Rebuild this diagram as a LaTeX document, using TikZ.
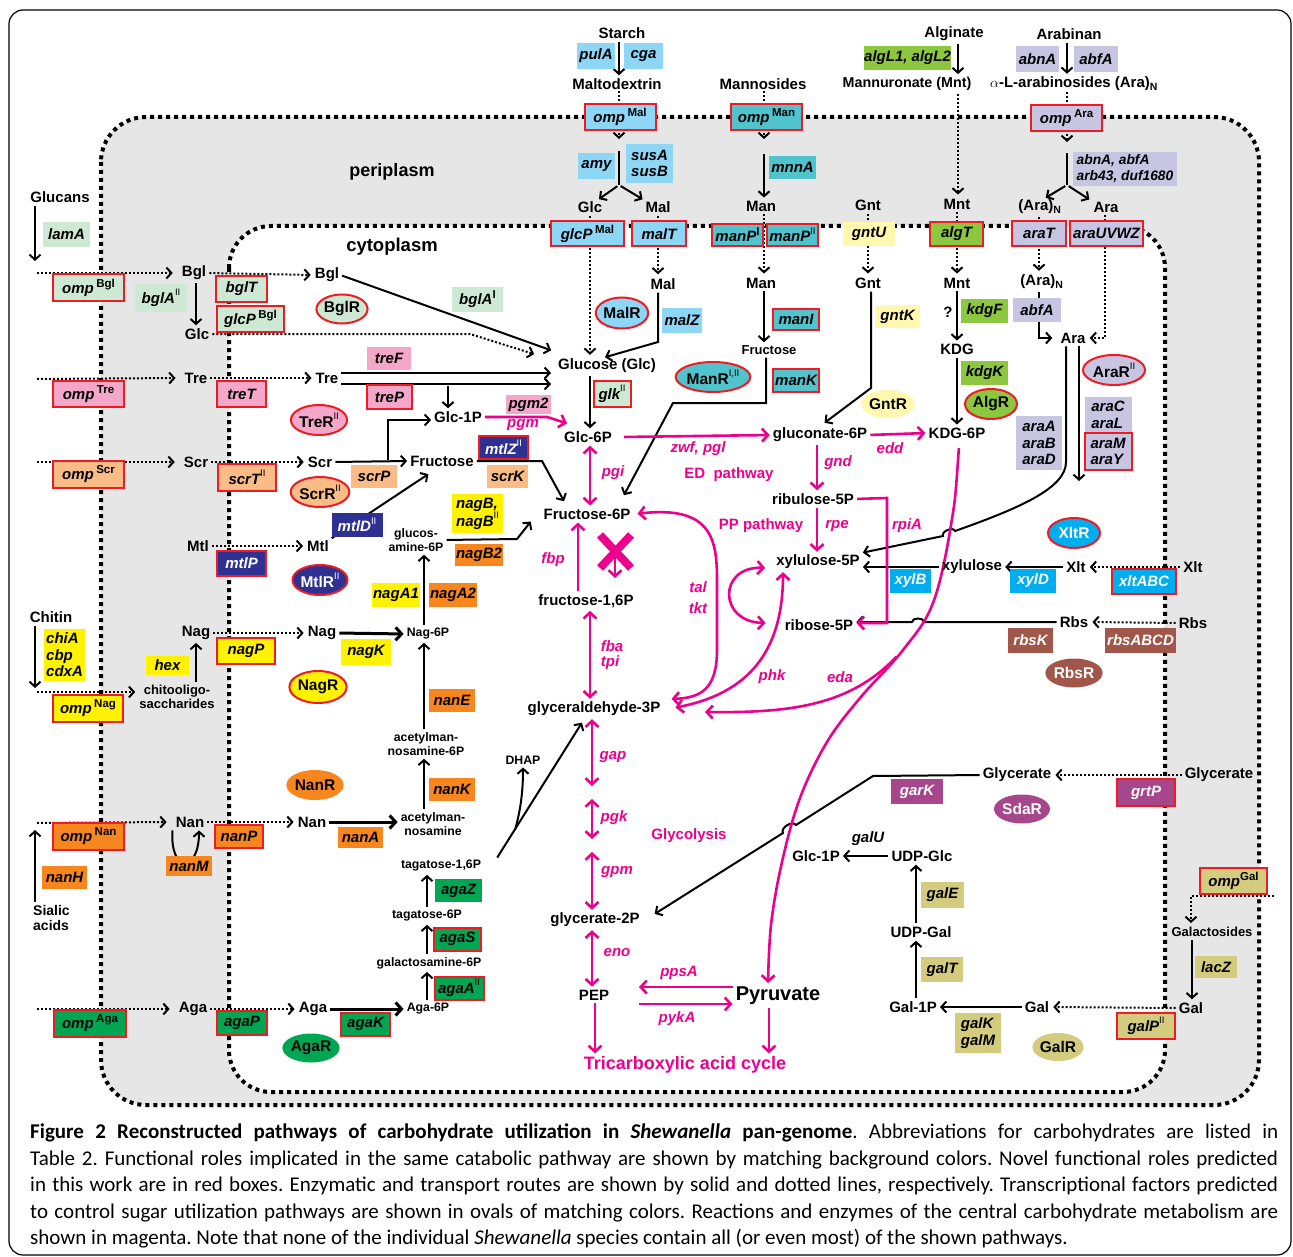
\documentclass[tikz,border=0pt]{standalone}
\usepackage{fontspec}
\setmainfont{Liberation Sans}
\newfontfamily\capfont{Carlito}
\usetikzlibrary{arrows.meta,shapes.geometric,calc}
\pgfdeclarelayer{membl}
\pgfdeclarelayer{lines}
\pgfsetlayers{membl,lines,main}
\definecolor{cBgl}{HTML}{CDE8D3}
\definecolor{cTre}{HTML}{F4A7C9}
\definecolor{cScr}{HTML}{F9BC86}
\definecolor{cMtl}{HTML}{2E3192}
\definecolor{cNag}{HTML}{FFF200}
\definecolor{cNan}{HTML}{F7861F}
\definecolor{cAga}{HTML}{00A651}
\definecolor{cMal}{HTML}{8DD6F6}
\definecolor{cMan}{HTML}{50C3CC}
\definecolor{cGnt}{HTML}{FFF8AE}
\definecolor{cAlg}{HTML}{8DC63F}
\definecolor{cAra}{HTML}{C8C5E2}
\definecolor{cXlt}{HTML}{00AEEF}
\definecolor{cRbs}{HTML}{A0574A}
\definecolor{cGly}{HTML}{A6478B}
\definecolor{cGal}{HTML}{D3CB7D}
\definecolor{mag}{HTML}{EC008C}
\definecolor{nred}{HTML}{ED1C24}
\definecolor{memgray}{HTML}{E6E6E6}
\newcommand\mfont{\fontsize{15}{17}\selectfont\bfseries}
\newcommand\smfont{\fontsize{12.3}{14}\selectfont\bfseries}
\newcommand\genefont{\fontsize{15}{16.5}\selectfont\bfseries\itshape}
\newcommand\regfont{\fontsize{15.5}{17}\selectfont\bfseries}
\newcommand\sps[1]{\raisebox{0.4em}{\fontsize{11.5}{11.5}\selectfont\upshape #1}}
\newcommand\spii{\raisebox{0.5em}{\fontsize{9.5}{9.5}\selectfont\upshape\mdseries II}}
\newcommand\gb[7][]{\node[gene,fill=#6,minimum width=#4pt,minimum height=#5pt,#1] (#2) at (#3) {#7};}
\newcommand\rg[7][]{\node[reg,fill=#6,minimum width=#4pt,minimum height=#5pt,#1] (#2) at (#3) {#7};}
\begin{document}
\begin{tikzpicture}[x=1pt,y=-1pt,
  gene/.style={rectangle,inner sep=0pt,font=\genefont,align=left},
  nov/.style={draw=nred,line width=2pt},
  wt/.style={text=white},
  reg/.style={ellipse,inner sep=0pt,font=\regfont},
  regnov/.style={draw=nred,line width=2pt},
  met/.style={inner sep=1pt,font=\mfont},
  sm/.style={inner sep=1pt,font=\smfont,align=center},
  ml/.style={inner sep=1pt,text=mag,font=\genefont},
  mt/.style={inner sep=1pt,text=mag,font=\mfont},
  ar/.style={line width=2pt,shorten <=2pt,shorten >=2pt,-{Straight Barb[length=5pt,width=11pt]}},
  arth/.style={line width=3pt,shorten <=2pt,shorten >=2pt,-{Straight Barb[length=6pt,width=13pt]}},
  ln/.style={line width=2pt},
  tp/.style={line width=2pt,dash pattern=on 2pt off 2pt,shorten <=2pt,shorten >=3pt,-{Straight Barb[length=5pt,width=11pt]}},
  tpl/.style={line width=2pt,dash pattern=on 2pt off 2pt},
  mg/.style={draw=mag,line width=2.6pt,shorten <=2pt,shorten >=2pt,-{Straight Barb[length=6pt,width=13pt]}},
  mgd/.style={draw=mag,line width=2.6pt,shorten <=2pt,shorten >=2pt,{Straight Barb[length=6pt,width=13pt]}-{Straight Barb[length=6pt,width=13pt]}},
  mgl/.style={draw=mag,line width=2.6pt},
  mline/.style={line width=4pt,dash pattern=on 4pt off 4pt},
  capl/.style={anchor=west,inner sep=0pt,font=\capfont\fontsize{21}{24}\selectfont\frenchspacing},
]
\useasboundingbox (0,0) rectangle (1293,1257);
\begin{pgfonlayer}{membl}
\fill[memgray,rounded corners=45pt] (101,117) rectangle (1259,1105);
\fill[white,rounded corners=42pt] (229,226) rectangle (1165,1092);
\draw[mline,rounded corners=45pt] (101,117) rectangle (1259,1105);
\draw[mline,rounded corners=42pt] (229,226) rectangle (1165,1092);
\end{pgfonlayer}
\draw[line width=1.2pt,rounded corners=14pt] (9,10) rectangle (1291,1255);

\node[met,font=\fontsize{18}{20}\selectfont\bfseries] (peri) at (392,172) {periplasm};
\node[met,font=\fontsize{18.5}{20}\selectfont\bfseries] (cyto) at (392,247) {cytoplasm};

% ---------- Mal
\node[met] (starch) at (622,33) {Starch};
\gb{pulA}{596,56}{38}{26}{cMal}{pulA}
\gb{cga}{643.5,56}{39}{26}{cMal}{cga}
\node[met] (maltod) at (617,84) {Maltodextrin};
\gb[nov]{ompMal}{620,117}{71}{26}{cMal}{omp\,\sps{Mal}}
\gb{amy}{596.5,166}{37}{26}{cMal}{amy}
\gb{susAB}{649.5,163.5}{47}{39}{cMal}{susA\\susB}
\node[met] (pGlc) at (590,207) {Glc};
\node[met] (pMal) at (658,207) {Mal};
\gb[nov]{glcPMal}{587.5,234}{73}{25}{cMal}{glcP\,\sps{Mal}}
\gb[nov]{malT}{659,234}{54}{25}{cMal}{malT}
\node[met] (cMal) at (663,284) {Mal};
\rg[regnov]{MalR}{622,313}{52}{31}{cMal}{MalR}
\gb{malZ}{682,320.5}{40}{25}{cMal}{malZ}
\node[met] (glucose) at (607,366) {Glucose (Glc)};
\gb[nov]{glk}{612,394}{37}{26}{cBgl}{glk\spii}
\node[met] (glc6p) at (588,437) {Glc-6P};

% ---------- Man
\node[met] (mannos) at (763,84) {Mannosides};
\gb[nov]{ompMan}{766.5,117}{71}{26}{cMan}{omp\,\sps{Man}}
\gb{mnnA}{792.5,167.5}{47}{23}{cMan}{mnnA}
\node[met] (pMan) at (761,206) {Man};
\gb[nov]{manPI}{737.5,235}{51}{22}{cMan}{manP\sps{I}}
\gb[nov]{manPII}{792.5,235}{51}{22}{cMan}{manP\spii}
\node[met] (cMan) at (761,283) {Man};
\gb[nov]{manI}{796,319.5}{46}{21}{cMan}{manI}
\node[sm,font=\fontsize{13}{15}\selectfont\bfseries] (fruM) at (769,350) {Fructose};
\gb[nov]{manK}{796,380.5}{46}{23}{cMan}{manK}
\rg[regnov]{ManR}{713,377}{70}{30}{cMan}{ManR\raisebox{0.5em}{\fontsize{9.5}{9.5}\selectfont\mdseries I,II}}

% ---------- Gnt
\node[met] (pGnt) at (868,205) {Gnt};
\gb{gntU}{869,234}{52}{24}{cGnt}{gntU}
\node[met] (cGnt) at (868,283) {Gnt};
\gb{gntK}{897.5,316.5}{45}{23}{cGnt}{gntK}
\rg{GntR}{888,404}{51}{28}{cGnt}{GntR}
\node[met] (gluc6p) at (820,435) {gluconate-6P};

% ---------- Alg
\node[met] (algin) at (954,34) {Alginate};
\gb{algL}{907.5,58}{87}{24}{cAlg}{algL1, algL2}
\node[met,font=\fontsize{14.3}{16}\selectfont\bfseries] (mntT) at (907,84) {Mannuronate (Mnt)};
\node[met] (pMnt) at (957,204) {Mnt};
\gb[nov]{algT}{956.5,234}{53}{24}{cAlg}{algT}
\node[met] (cMnt) at (957,283) {Mnt};
\node[met] (qm) at (948,312) {?};
\gb{kdgF}{984.5,311}{47}{24}{cAlg}{kdgF}
\node[met] (KDG) at (957,349) {KDG};
\gb{kdgK}{984.5,373}{47}{24}{cAlg}{kdgK}
\rg[regnov]{AlgR}{991,404}{52}{30}{cAlg}{AlgR}
\node[met] (kdg6p) at (957,433) {KDG-6P};

% ---------- Ara
\node[met] (arabinan) at (1069,34) {Arabinan};
\gb{abnA}{1037.5,59}{43}{26}{cAra}{abnA}
\gb{abfA}{1096,59}{44}{26}{cAra}{abfA}
\node[met] (aranT) at (1074,84) {$\alpha$-L-arabinosides (Ara)\textsubscript{N}};
\gb[nov]{ompAra}{1066.5,118}{71}{26}{cAra}{omp\,\sps{Ara}}
\gb[font=\fontsize{13.8}{16}\selectfont\bfseries\itshape]{abn2}{1125,169}{104}{34}{cAra}{abnA, abfA\\arb43, duf1680}
\node[met] (pAraN) at (1040,207) {(Ara)\textsubscript{N}};
\node[met] (pAra) at (1106,207) {Ara};
\gb[nov]{araT}{1039,233.5}{54}{25}{cAra}{araT}
\gb[nov]{araUVWZ}{1106.5,233.5}{73}{25}{cAra}{araUVWZ}
\node[met] (cAraN) at (1042,282) {(Ara)\textsubscript{N}};
\gb{abfAc}{1037,310}{48}{24}{cAra}{abfA}
\node[met] (cAra) at (1073,338) {Ara};
\rg[regnov]{AraR}{1114,370}{62}{30}{cAra}{AraR\spii}
\gb{araCL}{1108,415}{47}{36}{cAra}{araC\\araL}
\gb[nov]{araMY}{1108,451.5}{47}{37}{cAra}{araM\\araY}
\gb{araABD}{1039,443}{46}{54}{cAra}{araA\\araB\\araD}

% ---------- Xlt / Rbs
\rg[regnov,wt]{XltR}{1074,533}{52}{30}{cXlt}{XltR}
\node[met] (xltO) at (1193,567) {Xlt};
\node[met] (xlt) at (1076,567) {Xlt};
\gb[nov,wt]{xltABC}{1144,581.5}{64}{25}{cXlt}{xltABC}
\gb[wt]{xylD}{1033,581}{46}{24}{cXlt}{xylD}
\node[met] (xylulose) at (972,567) {xylulose};
\gb[wt]{xylB}{910.5,581}{41}{24}{cXlt}{xylB}
\node[met] (xylu5p) at (818,562) {xylulose-5P};
\node[met] (rbsO) at (1193,623) {Rbs};
\node[met] (rbs) at (1074,622) {Rbs};
\gb[wt]{rbsABCD}{1140.5,640.5}{71}{25}{cRbs}{rbsABCD}
\gb[wt]{rbsK}{1030.5,640.5}{45}{25}{cRbs}{rbsK}
\rg[wt]{RbsR}{1074,673}{51}{29}{cRbs}{RbsR}
\node[met] (rib5p) at (819,625) {ribose-5P};

% ---------- Glycerate
\node[met] (glyO) at (1219,775) {Glycerate};
\node[met] (gly) at (1017,775) {Glycerate};
\gb[nov,wt]{grtP}{1146,792.5}{58}{27}{cGly}{grtP}
\gb[wt]{garK}{917,791.5}{52}{25}{cGly}{garK}
\rg[wt]{SdaR}{1022,809}{46}{29}{cGly}{SdaR}

% ---------- Gal
\node[met] (glc1pB) at (816,856) {Glc-1P};
\node[inner sep=1pt,font=\genefont] (galU) at (868,839) {galU};
\node[met] (udpglc) at (922,856) {UDP-Glc};
\gb{galE}{942.5,895}{43}{26}{cGal}{galE}
\node[met] (udpgal) at (921,932) {UDP-Gal};
\gb{galT}{942,969.5}{42}{25}{cGal}{galT}
\node[met] (gal1p) at (913,1007) {Gal-1P};
\gb{galKM}{978,1033}{46}{40}{cGal}{galK\\galM}
\node[met] (galc) at (1037,1007) {Gal};
\gb[nov]{galP}{1146,1026}{58}{26}{cGal}{galP\spii}
\rg{GalR}{1058,1047}{51}{28}{cGal}{GalR}
\node[met] (galp) at (1191,1008) {Gal};
\gb{lacZ}{1216,967}{42}{22}{cGal}{lacZ}
\node[inner sep=1pt,font=\fontsize{13}{15}\selectfont\bfseries] (galact) at (1212,932) {Galactosides};
\gb[nov]{ompGal}{1233.5,880.5}{67}{26}{cGal}{omp\sps{Gal}}

% ---------- central
\node[met] (f6p) at (587,514) {Fructose-6P};
\node[met] (f16p) at (586,601) {fructose-1,6P};
\node[met] (g3p) at (594,709) {glyceraldehyde-3P};
\node[met] (ribu5p) at (813,499) {ribulose-5P};
\node[met] (g2p) at (595,920) {glycerate-2P};
\node[met] (pep) at (594,995) {PEP};
\node[met,font=\fontsize{20}{22}\selectfont\bfseries] (pyr) at (778,996) {Pyruvate};
\node[mt,font=\fontsize{18}{20}\selectfont\bfseries] (tca) at (685,1065) {Tricarboxylic acid cycle};
\node[ml] (pgi) at (613,473) {pgi};
\node[ml] (zwf) at (698,449) {zwf, pgl};
\node[mt] (EDp) at (729,475) {ED\ \ pathway};
\node[ml] (edd) at (890,448) {edd};
\node[ml] (gnd) at (838,463) {gnd};
\node[mt] (PPp) at (761,526) {PP pathway};
\node[ml] (rpe) at (837,526) {rpe};
\node[ml] (rpiA) at (907,526) {rpiA};
\node[ml] (fbp) at (553,560) {fbp};
\node[ml] (tal) at (698,587) {tal};
\node[ml] (tkt) at (698,608) {tkt};
\node[ml] (fba) at (612,646) {fba};
\node[ml] (tpi) at (610,663) {tpi};
\node[ml] (phk) at (772,677) {phk};
\node[ml] (eda) at (840,677) {eda};
\node[ml] (pgm) at (523,425) {pgm};
\node[ml] (gap) at (613,757) {gap};
\node[ml] (pgk) at (614,818) {pgk};
\node[ml] (gpm) at (617,872) {gpm};
\node[mt] (glycol) at (689,836) {Glycolysis};
\node[ml] (eno) at (617,953) {eno};
\node[ml] (ppsA) at (679,973) {ppsA};
\node[ml] (pykA) at (677,1019) {pykA};

% ---------- Bgl / Tre / Scr / Mtl
\node[met] (glucans) at (60,197) {Glucans};
\gb{lamA}{66.5,234.5}{47}{25}{cBgl}{lamA}
\node[met] (bglp) at (194,273) {Bgl};
\gb[nov]{ompBgl}{88.5,287.5}{71}{27}{cBgl}{omp\,\sps{Bgl}}
\gb{bglA2}{161,298}{52}{28}{cBgl}{bglA\spii}
\node[met] (glcp) at (197,334) {Glc};
\node[met] (bglc) at (327,275) {Bgl};
\gb[nov]{bglT}{241.5,289}{51}{26}{cBgl}{bglT}
\gb[nov]{glcPBgl}{250.5,319}{67}{26}{cBgl}{glcP\,\sps{Bgl}}
\rg[regnov]{BglR}{342,309}{46}{29}{cBgl}{BglR}
\gb{bglA1}{477.5,299.5}{51}{25}{cBgl}{bglA\sps{I}}
\node[met] (trep) at (196,378) {Tre};
\gb[nov]{ompTre}{88.5,394}{71}{26}{cTre}{omp\,\sps{Tre}}
\gb[nov]{treT}{241.5,394}{49}{26}{cTre}{treT}
\node[met] (trec) at (327,378) {Tre};
\gb{treF}{389,358.5}{44}{23}{cTre}{treF}
\gb[nov]{treP}{389.5,397}{45}{24}{cTre}{treP}
\rg[regnov]{TreR}{319,420}{51}{30}{cTre}{TreR\spii}
\node[met] (glc1p) at (458,417) {Glc-1P};
\gb{pgm2}{528.5,404.5}{45}{19}{cTre}{pgm2}
\node[met] (scrp) at (196,462) {Scr};
\gb[nov]{ompScr}{88.5,474.5}{71}{27}{cScr}{omp\,\sps{Scr}}
\gb[nov]{scrT}{247,477.5}{58}{27}{cScr}{scrT\spii}
\node[met] (scrc) at (320,462) {Scr};
\gb{scrP}{374,476}{46}{23}{cScr}{scrP}
\rg[regnov]{ScrR}{320,492}{55}{30}{cScr}{ScrR\spii}
\node[met] (fruL) at (442,461) {Fructose};
\gb[nov,wt]{mtlZ}{503.5,447.5}{49}{23}{cMtl}{mtlZ\spii}
\gb{scrK}{507.5,476}{41}{23}{cScr}{scrK}
\node[met] (mtlp) at (198,546) {Mtl};
\gb[nov,wt]{mtlP}{241.5,563.5}{49}{25}{cMtl}{mtlP}
\node[met] (mtlc) at (318,546) {Mtl};
\gb[wt]{mtlD}{357,525}{51}{24}{cMtl}{mtlD\spii}
\rg[regnov,wt]{MtlR}{320,580}{55}{30}{cMtl}{MtlR\spii}
\node[sm] (glcn6p) at (416,540) {glucos-\\amine-6P};
\gb{nagB}{477.5,513.5}{51}{39}{cNag}{nagB,\\nagB\spii}
\gb{nagB2}{479,555}{48}{22}{cNan}{nagB2}
\gb{nagA1}{396,595}{48}{24}{cNag}{nagA1}
\gb{nagA2}{453,595}{48}{24}{cNan}{nagA2}

% ---------- Nag / Nan / Aga
\node[met] (chitin) at (51,617) {Chitin};
\gb{chiA}{64.5,655}{41}{52}{cNag}{chiA\\cbp\\cdxA}
\gb{hex}{167.5,665.5}{43}{19}{cNag}{hex}
\gb[nov]{ompNag}{88,708.5}{70}{27}{cNag}{omp\,\sps{Nag}}
\node[sm,font=\fontsize{13}{14.5}\selectfont\bfseries] (chito) at (177,697) {chitooligo-\\saccharides};
\node[met] (nagp) at (196,633) {Nag};
\gb[nov]{nagP}{246,651}{58}{26}{cNag}{nagP}
\node[met] (nagc) at (322,633) {Nag};
\rg[regnov]{NagR}{318,687}{52}{32}{cNag}{NagR}
\gb{nagK}{366,652}{50}{26}{cNag}{nagK}
\node[sm] (nag6p) at (428,634) {Nag-6P};
\gb{nanE}{452,700.5}{46}{23}{cNan}{nanE}
\node[sm] (acman6p) at (426,744) {acetylman-\\nosamine-6P};
\node[inner sep=1pt,align=left,font=\fontsize{14}{15.5}\selectfont\bfseries,anchor=west] (sialic) at (32,918) {Sialic\\acids};
\gb{nanH}{64.5,877}{45}{23}{cNan}{nanH}
\node[met] (nanp) at (190,822) {Nan};
\gb[nov]{ompNan}{88.5,836.5}{71}{27}{cNan}{omp\,\sps{Nan}}
\gb{nanM}{189,866}{46}{20}{cNan}{nanM}
\gb[nov]{nanP}{239,836}{48}{23}{cNan}{nanP}
\node[met] (nanc) at (312,822) {Nan};
\rg{NanR}{315,785}{46}{30}{cNan}{NanR}
\gb{nanA}{360.5,837.5}{45}{21}{cNan}{nanA}
\node[sm] (acman) at (433,824) {acetylman-\\nosamine};
\gb{nanK}{452,789.5}{46}{23}{cNan}{nanK}
\node[sm] (dhap) at (523,760) {DHAP};
\node[sm] (tag16p) at (441,866) {tagatose-1,6P};
\gb{agaZ}{458.5,890.5}{47}{23}{cAga}{agaZ}
\node[sm] (tag6p) at (427,916) {tagatose-6P};
\gb[nov]{agaS}{457.5,939}{47}{23}{cAga}{agaS}
\node[sm] (galn6p) at (429,963) {galactosamine-6P};
\gb[nov]{agaA}{459,988}{49}{23}{cAga}{agaA\spii}
\node[sm] (aga6p) at (428,1009) {Aga-6P};
\node[met] (agap) at (193,1009) {Aga};
\gb[nov]{ompAga}{90,1023.5}{72}{27}{cAga}{omp\,\sps{Aga}}
\gb[nov]{agaP}{242,1022.5}{50}{24}{cAga}{agaP}
\node[met] (agac) at (313,1009) {Aga};
\gb[nov]{agaK}{365.5,1024}{49}{23}{cAga}{agaK}
\rg{AgaR}{311,1048}{45}{29}{cAga}{AgaR}

% ---------- caption
\node[capl] (cap1) at (30,1133) {\makebox[1248pt][s]{\textbf{Figure 2 Reconstructed pathways of carbohydrate utilization in \textit{Shewanella} pan-genome}. Abbreviations for carbohydrates are listed in}};
\node[capl] (cap2) at (30,1160) {\makebox[1248pt][s]{Table 2. Functional roles implicated in the same catabolic pathway are shown by matching background colors. Novel functional roles predicted}};
\node[capl] (cap3) at (30,1186) {\makebox[1248pt][s]{in this work are in red boxes. Enzymatic and transport routes are shown by solid and dotted lines, respectively. Transcriptional factors predicted}};
\node[capl] (cap4) at (30,1213) {\makebox[1248pt][s]{to control sugar utilization pathways are shown in ovals of matching colors. Reactions and enzymes of the central carbohydrate metabolism are}};
\node[capl] (cap5) at (30,1239) {shown in magenta. Note that none of the individual \textit{Shewanella} species contain all (or even most) of the shown pathways.};

\coordinate (malA) at (619,142);
\coordinate (malB) at (619,151);
\coordinate (malC) at (619,185);
\coordinate (manA) at (764,142);
\coordinate (manB) at (764,152);
\coordinate (araA) at (1067,145);
\coordinate (araB) at (1067,153);
\coordinate (araC) at (1067,185);
\coordinate (araDown) at (1079,483);
\coordinate (galO) at (1276,896);
\coordinate (bgl0) at (35,273);
\coordinate (tre0) at (35,379);
\coordinate (scr0) at (35,462);
\coordinate (chi0) at (35,692);
\coordinate (nan0) at (35,823);
\coordinate (aga0) at (35,1009);

\begin{pgfonlayer}{lines}
% Mal
\draw[ar] (starch.south -| 619,0) -- (maltod.north -| 619,0);
\draw[tpl] (maltod.south -| 619,0) -- (ompMal.north -| 619,0);
\draw[tp] (ompMal.south -| malA) -- (malA);
\draw[ln] (malB) -- (malC);
\draw[ar] (malC) -- ([xshift=-6pt]pGlc.north east);
\draw[ar] (malC) -- (pMal.north west);
\draw[tp] (pGlc.south -| 590,0) -- (glucose.north -| 590,0);
\draw[tp] (pMal.south -| 658,0) -- (cMal.north -| 658,0);
\draw[ar] (cMal.south -| 658,0) -- (658,342) -- ([xshift=-4pt]glucose.north);
\draw[ar] (glucose.south -| 590,0) -- (glc6p.north -| 590,0);
% Man
\draw[tpl] (mannos.south -| 764,0) -- (ompMan.north -| 764,0);
\draw[tp] (ompMan.south -| manA) -- (manA);
\draw[ar] (manB) -- (pMan.north -| manB);
\draw[tp] (pMan.south -| 764,0) -- (cMan.north -| 764,0);
\draw[ar] (cMan.south -| 764,0) -- (fruM.north -| 764,0);
\draw[ar] (fruM.south -| 766,0) -- (766,403) -- (673,403) -- (623,497);
% Gnt
\draw[tp] (pGnt.south -| 868,0) -- (cGnt.north -| 868,0);
\draw[ar] (cGnt.south -| 871,0) -- (871,388) -- (823,424);
% Alg
\draw[ar] (algin.south -| 958,0) -- (mntT.north -| 958,0);
\draw[tp] (mntT.south -| 958,0) -- (pMnt.north -| 958,0);
\draw[tp] (pMnt.south -| 957,0) -- (cMnt.north -| 957,0);
\draw[ar] (cMnt.south -| 957,0) -- (KDG.north -| 957,0);
\draw[ar] (KDG.south -| 957,0) -- (kdg6p.north -| 957,0);
% Ara
\draw[ar] (arabinan.south -| 1067,0) -- (aranT.north -| 1067,0);
\draw[tpl] (aranT.south -| 1067,0) -- (ompAra.north -| 1067,0);
\draw[tp] (ompAra.south -| araA) -- (araA);
\draw[ln] (araB) -- (araC);
\draw[ar] (araC) -- ([xshift=4pt]pAraN.north);
\draw[ar] (araC) -- ([xshift=-15pt]pAra.north);
\draw[tp] (pAraN.south -| 1039,0) -- (cAraN.north -| 1039,0);
\draw[tp] (pAra.south -| 1105,0) -- (1105,338) -- (cAra.east);
\draw[ar] (cAraN.south -| 1039,0) -- (1039,338) -- ([xshift=-5pt]cAra.west);
\draw[ar] (cAra.south -| 1079,0) -- (araDown);
\draw[ar] (cAra.south -| 1066,0) -- (1066,462) .. controls (1066,488) and (1020,508) .. (955,531) to[bend right=90] (943,536) -- (xylu5p.east |- 0,553);
\draw[ar] (xlt.west) -- (xylulose.east);
\draw[tp] (xltO.west) -- (xlt.east);
\draw[ar] (xylulose.west) -- (xylu5p.east |- xylulose.west);
\draw[tp] (rbsO.west) -- (rbs.east);
\draw[ar] (rbs.west) -- (924,622) to[bend right=90] (912,622) -- (rib5p.east |- rbs.west);
% Glycerate
\draw[tp] (glyO.west) -- (gly.east);
\draw[ar] (gly.west) -- (873,776) -- (796,825) to[bend right=90] (783,833) -- (653,915);
% Gal
\draw[ar] (udpglc.west) -- (glc1pB.east);
\draw[ar] (udpgal.north -| 916,0) -- (udpglc.south -| 916,0);
\draw[ar] (gal1p.north -| 916,0) -- (udpgal.south -| 916,0);
\draw[ar] (galc.west) -- (gal1p.east);
\draw[tp] (galp.west) -- (galc.east);
\draw[ar] (galact.south -| 1192,0) -- (galp.north -| 1192,0);
\draw[tp] (galO) -- (1191,896) -- (galact.north -| 1191,0);
% Bgl
\draw[ar] (glucans.south -| bgl0) -- ([yshift=10pt]bgl0);
\draw[tp] (bgl0) -- ([xshift=-5pt]bglp.west);
\draw[tp] (bglp.east) -- (bglc.west);
\draw[ar] (bglp.south -| 196,0) -- (glcp.north -| 196,0);
\draw[ar] (bglc.east) -- (553,351);
\draw[tp] (glcp.east) -- (470,334) -- (537,355);
% Tre
\draw[tp] (tre0) -- ([xshift=-5pt]trep.west);
\draw[tp] (trep.east) -- (trec.west);
\draw[ar] (trec.east |- 0,373) -- (553,373);
\draw[ar] (trec.east |- 0,384) -- (553,384);
\draw[ar] (448,384) -- (glc1p.north -| 448,0);
% Scr
\draw[tp] (scr0) -- ([xshift=-5pt]scrp.west);
\draw[tp] (scrp.east) -- (scrc.west);
\draw[ar] (scrc.east) -- (fruL.west);
\draw[ar] (388,462) -- (388,420) -- (glc1p.west |- 0,420);
\draw[ar] (fruL.east) -- (542,461) -- (565,503);
% Mtl
\draw[tp] (mtlp.east) -- (mtlc.west);
\draw[ar] (mtlc.north east) -- (430,473);
\draw[ar] (glcn6p.east) -- (517,539) -- (532,520);
\draw[ar] (nag6p.north -| 424,0) -- (glcn6p.south -| 424,0);
% Nag
\draw[ar] (chitin.south -| chi0) -- ([yshift=2pt]chi0);
\draw[tp] (chi0) -- (chito.west |- chi0);
\draw[ar] (chito.north -| 196,0) -- (nagp.south -| 196,0);
\draw[tp] (nagp.east) -- (nagc.west);
\draw[arth] (nagc.east) -- (nag6p.west);
\draw[ar] (acman6p.north -| 424,0) -- (nag6p.south -| 424,0);
% Nan
\draw[ar] (sialic.north -| nan0) -- ([yshift=-5pt]nan0);
\draw[tp] (nan0) -- ([xshift=-5pt]nanp.west);
\draw[ar] ([xshift=-2pt]nanp.south west) .. controls +(-3,45) and +(0,45) .. ([xshift=9pt]nanp.south);
\draw[tp] (nanp.east) -- (nanc.west);
\draw[arth] (nanc.east) -- (acman.west |- nanc.east);
\draw[ar] (acman.north -| 424,0) -- (acman6p.south -| 424,0);
\draw[ar] ([xshift=14pt]tag16p.north east) -- (583,721);
\draw[ar] (515,830) .. controls (521,808) and (523,790) .. (dhap.south);
% Aga
\draw[tp] (aga0) -- ([xshift=-5pt]agap.west);
\draw[tp] (agap.east) -- (agac.west);
\draw[arth] (agac.east) -- (aga6p.west);
\draw[ar] (aga6p.north -| 427,0) -- (galn6p.south -| 427,0);
\draw[ar] (galn6p.north -| 427,0) -- (tag6p.south -| 427,0);
\draw[ar] (tag6p.north -| 427,0) -- (tag16p.south -| 427,0);
% magenta
\draw[mg] (glc1p.east) -- (547,417) -- (569,424);
\draw[mgd] (glc6p.south -| 590,0) -- (f6p.north -| 590,0);
\draw[mg] ([xshift=9pt]glc6p.east) -- (gluc6p.west);
\draw[mg] (gluc6p.east) -- (kdg6p.west);
\draw[mg] (gluc6p.south -| 817,0) -- (ribu5p.north -| 817,0);
\draw[mg] (ribu5p.south -| 817,0) -- (xylu5p.north -| 817,0);
\draw[mg] (ribu5p.east) -- (887,498) -- (887,623) -- (rib5p.east |- 0,623);
\draw[mg] (f16p.north -| 578,0) -- (f6p.south -| 578,0);
\draw[mgl,line width=8pt] (600,535) -- (631,568) (631,535) -- (600,568);
\draw[mg] (615,552) -- (615,580);
\draw[mgd] (f16p.south -| 590,0) -- (g3p.north -| 590,0);
\draw[mgd] ([xshift=4pt]f6p.east) .. controls (712,505) and (717,540) .. (717,580) -- (717,650) .. controls (717,690) and (700,698) .. ([xshift=8pt]g3p.east |- 0,699);
\draw[mgd] ([xshift=-8pt]xylu5p.west |- 0,568) .. controls (718,566) and (718,622) .. ([xshift=-16pt]rib5p.west |- 0,623);
\draw[mgd] ([xshift=12pt]g3p.east |- 0,708) .. controls (740,695) and (783,660) .. (xylu5p.south -| 783,0);
\draw[mg] plot[smooth,tension=0.6] coordinates {(959,446) (951,525) (933,603) (903,650) (860,698) (827,742) (800,798) (782,862) (771,925) (768,985)};
\draw[mg] (898,655) .. controls (850,706) and (790,713) .. (703,712);
\draw[mgd] (g3p.south -| 592,0) -- (592,788);
\draw[mgd] (592,797) -- (592,841);
\draw[mgd] (592,850) -- (g2p.north -| 592,0);
\draw[mgd] (g2p.south -| 592,0) -- (pep.north -| 592,0);
\draw[mg] (pyr.west |- 0,987) -- (637,987);
\draw[mg] (637,1004) -- (pyr.west |- 0,1004);
\draw[mg] (pep.south -| 595,0) -- (tca.north -| 595,0);
\draw[mg] (pyr.south -| 769,0) -- (tca.north -| 769,0);
\end{pgfonlayer}
\end{tikzpicture}
\end{document}
